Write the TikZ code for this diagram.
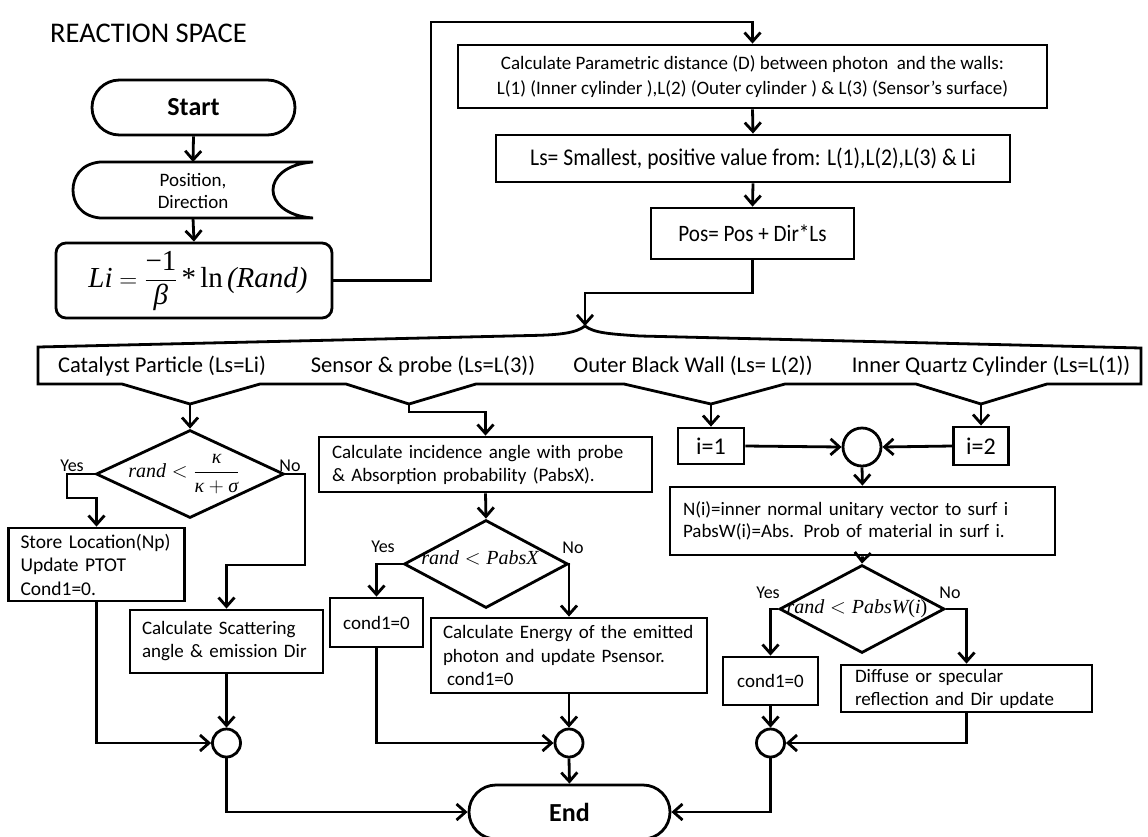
\documentclass[tikz,border=0pt]{standalone}
\usepackage{fontspec}
\usepackage{amsmath}
\setmainfont{Carlito}
\newfontfamily\narrow[FakeStretch=0.9]{Carlito}
\newfontfamily\tms{Liberation Serif}
\usetikzlibrary{arrows.meta,shapes.misc,shapes.geometric,calc}

\newcommand\fsz[2]{\fontsize{#1}{#2}\selectfont}

\begin{document}
\begin{tikzpicture}[x=1pt,y=-1pt,
  lw/.style={line width=2.8pt},
  arr/.style={lw,-{Straight Barb[length=9pt,width=16pt]}},
  box/.style={draw,lw,rectangle,inner ysep=0pt,align=left},
  cbox/.style={draw,lw,rectangle,inner sep=0pt,align=center},
  term/.style={draw,lw,rounded rectangle,inner sep=0pt,font=\fsz{26}{30}\bfseries},
  dia/.style={draw,lw,diamond,inner sep=0pt},
  junc/.style={draw,lw,circle,inner sep=0pt,minimum size=28pt},
  lbl/.style={font=\fsz{18}{20},inner sep=0pt},
  caselbl/.style={font=\fsz{22.5}{26},inner sep=0pt},
  mth/.style={font=\tms\fsz{20}{24},inner sep=0pt}
]
\path[use as bounding box] (0,0) rectangle (1148,836);
\clip (0,0) rectangle (1148,836);

% ---------- heading ----------
\node[anchor=base west,font=\fsz{28.5}{32},inner sep=0pt] (title) at (50,42) {REACTION SPACE};

% ---------- initialisation column ----------
\node[term,minimum width=203pt,minimum height=55pt] (start) at (193.5,107.5) {Start};

\node[align=center,font=\fsz{19}{21.5},inner sep=0pt,minimum width=240pt,minimum height=56pt] (posdir) at (193,191) {Position,\\Direction};
\draw[lw] (100,162) -- (313,162)
  .. controls (285,164) and (273,178) .. (273,190)
  .. controls (273,202) and (285,216) .. (313,218)
  -- (100,218)
  .. controls (80,216) and (73,202) .. (73,190)
  .. controls (73,178) and (80,164) .. (100,162) -- cycle;

\node[draw,lw,rounded corners=10pt,minimum width=276pt,minimum height=75pt,inner sep=0pt] (li) at (194,280.5) {};
\node[font=\tms\fsz{29}{34},inner sep=0pt] (lif) at (198,281)
  {$\textit{Li} = \dfrac{\text{\textminus 1}}{\textit{β}}\,\text{*}\,\text{ln}\,\textit{(Rand)}$};

\draw[arr] (start.south) -- (193,162);
\draw[arr] (193,218) -- (li.north);

% ---------- distance computation ----------
\node[cbox,minimum width=589pt,minimum height=63pt,font=\fsz{19}{25}] (calc) at (752.5,76.5)
  {Calculate Parametric distance (D) between photon\ \ and the walls:\\
   L(1) (Inner cylinder ),L(2) (Outer cylinder ) \& L(3) (Sensor’s surface)};
\node[cbox,minimum width=514pt,minimum height=47pt,font=\narrow\fsz{24}{28}] (ls) at (753,158.5)
  {Ls= Smallest, positive value from: L(1),L(2),L(3) \& Li};
\node[cbox,minimum width=203pt,minimum height=51pt,font=\narrow\fsz{23.5}{27}] (posbox) at (752.5,233.5)
  {Pos= Pos + Dir*Ls};

\draw[arr] (li.east) -| (431,22) -| (calc.north);
\draw[arr] (calc.south) -- (ls.north);
\draw[arr] (ls.south) -- (posbox.north);

% ---------- case split ----------
\coordinate (tip) at (585,326);
\coordinate (v1) at (190,404);
\coordinate (v2) at (409,404);
\coordinate (v3) at (711,404);
\coordinate (v4) at (981,404);
\draw[lw,line join=miter] (tip) .. controls (576,333) and (560,335) .. (530,335.5) -- (38,347)
  -- (38,384) -- (122,384) -- (v1) -- (260,384) -- (346,384) -- (v2) -- (476,384)
  -- (624,384) -- (v3) -- (785,384) -- (916,384) -- (v4) -- (1047,384) -- (1141,384)
  -- (1141,348) -- (640,336) .. controls (610,334) and (594,333) .. (tip);
\draw[arr] (posbox.south) |- (585,293) -- (tip);

\node[caselbl] (cat) at (162,366) {Catalyst Particle (Ls=Li)};
\node[caselbl] (sen) at (423,366) {Sensor \& probe (Ls=L(3))};
\node[caselbl] (out) at (693,366) {Outer Black Wall (Ls= L(2))};
\node[caselbl] (inn) at (991,366) {Inner Quartz Cylinder (Ls=L(1))};

% ---------- catalyst particle branch ----------
\node[dia,minimum width=188pt,minimum height=88pt] (d1) at (190,474) {};
\node[mth] (d1t) at (184,474) {$\textit{rand} < \dfrac{\textit{κ}}{\textit{κ}+\textit{σ}}$};
\node[lbl] (y1) at (72,466) {Yes};
\node[lbl] (n1) at (290,466) {No};

\node[box,minimum width=176pt,minimum height=73pt,text width=152pt,inner xsep=12pt,font=\fsz{19.5}{23.5}] (store) at (96.5,564.5)
  {Store Location(Np)\\Update PTOT\\Cond1=0.};
\node[box,minimum width=193pt,minimum height=63pt,text width=169pt,inner xsep=12pt,font=\fsz{19}{23}] (scat) at (226.5,641.5)
  {Calculate Scattering\\angle \& emission Dir};
\node[junc] (c1) at (226.5,743) {};

\draw[arr] (v1) -- (d1.north);
\draw[arr] (d1.west) -- (67,474) -- (67,498) -| (store.north);
\draw[arr] (d1.east) -- (305,474) |- (226.5,565) -- (scat.north);
\draw[arr] (store.south) |- (c1.west);
\draw[arr] (scat.south) -- (c1.north);

% ---------- sensor branch ----------
\node[box,minimum width=333pt,minimum height=55pt,text width=307pt,inner xsep=13pt,font=\fsz{19}{23}] (inc) at (485.5,464.5)
  {Calculate incidence angle with probe\\\& Absorption probability (PabsX).};
\node[dia,minimum width=164pt,minimum height=88pt] (d2) at (486,564) {};
\node[mth] (d2t) at (480,558) {$\textit{rand} < \textit{PabsX}$};
\node[lbl] (y2) at (383,547) {Yes};
\node[lbl] (n2) at (573,548) {No};
\node[cbox,minimum width=93pt,minimum height=49pt,font=\fsz{19}{23}] (cm) at (376.5,622.5) {cond1=0};
\node[box,minimum width=276pt,minimum height=75pt,text width=252pt,inner xsep=12pt,font=\fsz{19}{23.5}] (en) at (569,655.5)
  {Calculate Energy of the emitted\\photon and update Psensor.\\\hspace{4pt}cond1=0};
\node[junc] (c2) at (569,743) {};

\draw[arr] (v2) -- (409,412) -| (inc.north);
\draw[arr] (inc.south) -- (d2.north);
\draw[arr] (d2.west) -| (cm.north);
\draw[arr] (d2.east) -| (en.north);
\draw[arr] (cm.south) |- (c2.west);
\draw[arr] (en.south) -- (c2.north);

% ---------- wall branches ----------
\node[cbox,minimum width=66pt,minimum height=36pt,font=\fsz{24}{28}] (i1) at (711,446) {i=1};
\node[cbox,minimum width=55pt,minimum height=38pt,font=\fsz{24}{28}] (i2) at (981,446) {i=2};
\node[junc,minimum size=38pt] (jc) at (862,447) {};
\node[box,minimum width=385pt,minimum height=68pt,text width=359pt,inner xsep=13pt,font=\fsz{19}{21.5}] (nb) at (862.5,521)
  {N(i)=inner normal unitary vector to surf i\\PabsW(i)=Abs. Prob of material in surf i.};
\node[dia,minimum width=165pt,minimum height=88pt] (d3) at (862,609) {};
\node[mth] (d3t) at (857,609) {$\textit{rand} < \textit{PabsW}\text{(}\textit{i}\text{)}$};
\node[lbl] (y3) at (768,593) {Yes};
\node[lbl] (n3) at (950,593) {No};
\node[cbox,minimum width=95pt,minimum height=48pt,font=\fsz{19}{23}] (cr) at (770.5,681) {cond1=0};
\node[box,minimum width=251pt,minimum height=47pt,text width=223pt,inner xsep=14pt,font=\fsz{19}{23}] (dif) at (966.5,688.5)
  {Diffuse or specular\\reflection and Dir update};
\node[junc] (c3) at (770.5,743) {};

\draw[arr] (v3) -- (i1.north);
\draw[arr] (v4) -- (i2.north);
\draw[arr] (i1.east) -- (jc.west);
\draw[arr] (i2.west) -- (jc.east);
\draw[arr] (jc.south) -- (nb.north);
\draw[arr] (nb.south) -- (d3.north);
\draw[arr] (d3.west) -| (cr.north);
\draw[arr] (d3.east) -| (dif.north);
\draw[arr] (cr.south) -- (c3.north);
\draw[arr] (dif.south) |- (c3.east);

% ---------- end ----------
\node[term,minimum width=201pt,minimum height=54pt] (endn) at (569.5,812) {End};
\draw[arr] (c1.south) |- (endn.west);
\draw[arr] (c2.south) -- (endn.north);
\draw[arr] (c3.south) |- (endn.east);
\end{tikzpicture}
\end{document}
